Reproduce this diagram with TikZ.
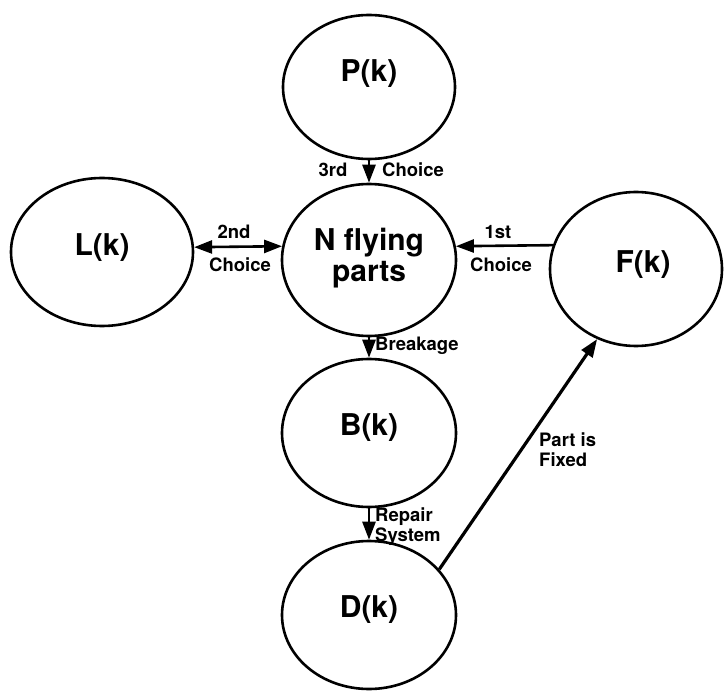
\documentclass[tikz,border=0pt]{standalone}
\usepackage{fontspec}
\setmainfont{TeX Gyre Heros}
\usetikzlibrary{arrows.meta,shapes.geometric,calc}
\begin{document}
\begin{tikzpicture}[x=1pt,y=-1pt,
  st/.style={ellipse,draw,line width=2.6pt,inner sep=0pt},
  big/.style={font=\fontsize{30}{31}\selectfont\bfseries,align=center,inner sep=0pt},
  lab/.style={font=\fontsize{18.5}{20}\selectfont\bfseries,inner sep=0pt,align=left},
  arr/.style={line width=2.6pt,-{Triangle[length=18pt,width=13pt]}},
  darr/.style={line width=2.6pt,{Triangle[length=18pt,width=13pt]}-{Triangle[length=18pt,width=13pt]}},
]
\useasboundingbox (0,0) rectangle (725,692);
% ellipses
\node[st,minimum width=172pt,minimum height=144pt] (P) at (369,87) {};
\node[st,minimum width=174pt,minimum height=152pt] (N) at (369,260) {};
\node[st,minimum width=182pt,minimum height=148pt] (L) at (102,252) {};
\node[st,minimum width=172pt,minimum height=154pt] (F) at (636,269) {};
\node[st,minimum width=174pt,minimum height=148pt] (B) at (369,433) {};
\node[st,minimum width=174pt,minimum height=148pt] (D) at (369,615) {};
% texts
\node[big] (Pt) at (369,74) {P(k)};
\node[big] (Nt) at (369,258) {N flying\\parts};
\node[big] (Lt) at (102,248) {L(k)};
\node[big] (Ft) at (643,265) {F(k)};
\node[big] (Bt) at (369,428) {B(k)};
\node[big] (Dt) at (369,610) {D(k)};
% connectors
\draw[arr] (P) -- (N);
\draw[darr] (L.3) -- (N.171);
\draw[arr] (F.164) -- (N.9);
\draw[arr] (N) -- (B);
\draw[arr] (B) -- (D);
\draw[line width=3.2pt,-{Triangle[length=18pt,width=13pt]}] (D.33) -- (F.241);
% labels
\node[lab] (l3rd) at (333,170) {3rd};
\node[lab] (l3c) at (413,170) {Choice};
\node[lab] (l2nd) at (234,232) {2nd};
\node[lab] (l2c) at (240,265) {Choice};
\node[lab] (l1st) at (498,232) {1st};
\node[lab] (l1c) at (501,265) {Choice};
\node[lab,anchor=west] (lbr) at (375,346) {Breakage};
\node[lab,anchor=west] (lrep) at (375,527) {Repair\\System};
\node[lab,anchor=west] (lfix) at (539,450) {Part is\\Fixed};
\end{tikzpicture}
\end{document}
